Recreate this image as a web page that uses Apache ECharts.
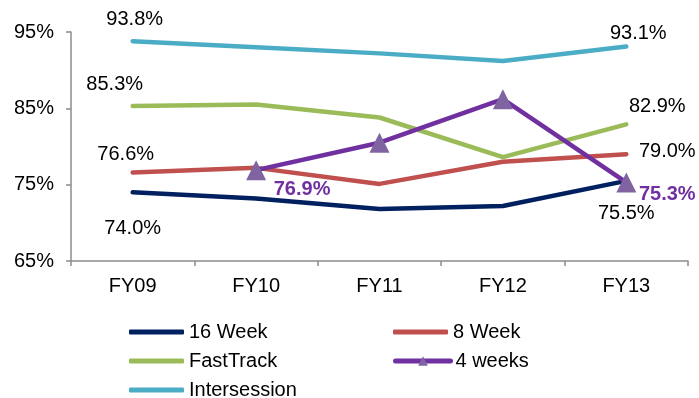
<!DOCTYPE html>
<html>
<head>
<meta charset="utf-8">
<script src="https://cdn.jsdelivr.net/npm/echarts@6/dist/echarts.min.js"></script>
<style>
  html, body { margin: 0; padding: 0; background: #fff; }
  #chart { width: 699px; height: 398px; }
</style>
</head>
<body>
<div id="chart"></div>
<script>
// Fiscal years on the x axis
const categories = ['FY09', 'FY10', 'FY11', 'FY12', 'FY13'];

// Rates per program (percent); null where the program did not run
const week16       = [74.0, 73.2, 71.8, 72.2, 75.5];
const week8        = [76.6, 77.2, 75.1, 78.0, 79.0];
const fastTrack    = [85.3, 85.5, 83.8, 78.6, 82.9];
const weeks4       = [null, 76.9, 80.5, 86.2, 75.3];
const intersession = [93.8, 93.0, 92.2, 91.2, 93.1];

// Value axis ticks
const yMin = 65, yMax = 95, yStep = 10;

const FONT = '"Liberation Sans", Arial, sans-serif';

// Which points carry a value label, and where it sits relative to the point
const labelSpots = {
  '16 Week':      { 0: { dx: 0, dy: 36 }, 4: { dx: 0, dy: 33 } },
  '8 Week':       { 0: { dx: -7, dy: -18 }, 4: { dx: 41, dy: -3 } },
  'FastTrack':    { 0: { dx: -18, dy: -22 }, 4: { dx: 31, dy: -18 } },
  '4 weeks':      { 1: { dx: 46, dy: 19, bold: true }, 4: { dx: 41, dy: 12, bold: true } },
  'Intersession': { 0: { dx: 2, dy: -22 }, 4: { dx: 12, dy: -13 } }
};

const seriesColors = {
  '16 Week': '#002060',
  '8 Week': '#C0504D',
  'FastTrack': '#9BBB59',
  '4 weeks': '#7030A0',
  'Intersession': '#4BACC6'
};

function lineSeries(name, values, opts) {
  opts = opts || {};
  const color = seriesColors[name];
  return {
    name: name,
    type: 'line',
    data: values,
    symbol: opts.symbol || 'none',
    symbolSize: opts.symbolSize || 0,
    showSymbol: true,
    connectNulls: false,
    lineStyle: { color: color, width: 4.5, cap: 'round', join: 'round' },
    itemStyle: { color: opts.markerColor || color },
    emphasis: { disabled: true },
    z: opts.z || 2,
    animation: false
  };
}

// Invisible points that only carry the value labels
function labelSeries(name, values, color) {
  const spots = labelSpots[name];
  const data = values.map(function (v, i) {
    const s = spots[i];
    if (!s || v == null) return null;
    return {
      value: v,
      label: {
        show: true,
        position: 'inside',
        offset: [s.dx, s.dy],
        color: color,
        textBorderWidth: 0,
        fontFamily: FONT,
        fontSize: 20,
        fontWeight: s.bold ? 'bold' : 'normal'
      }
    };
  });
  return {
    name: name + ' values',
    type: 'scatter',
    data: data,
    symbol: 'circle',
    symbolSize: 0,
    itemStyle: { color: 'rgba(0,0,0,0)', opacity: 1 },
    label: { formatter: function (p) { return p.value.toFixed(1) + '%'; } },
    emphasis: { disabled: true },
    silent: true,
    z: 10,
    animation: false
  };
}

const chart = echarts.init(document.getElementById('chart'), null, { renderer: 'canvas' });

const legendText = { color: '#000', fontFamily: FONT, fontSize: 20, lineHeight: 20 };

// One legend entry per slot: two columns, three rows
const legendSlots = [
  { name: '16 Week',      left: 129, top: 322 },
  { name: '8 Week',       left: 393, top: 322 },
  { name: 'FastTrack',    left: 129, top: 351 },
  { name: '4 weeks',      left: 393, top: 351, marker: true },
  { name: 'Intersession', left: 129, top: 380 }
];

chart.setOption({
  backgroundColor: '#fff',
  animation: false,
  grid: { left: 71, right: 11, top: 32, bottom: 137, containLabel: false },
  xAxis: {
    type: 'category',
    data: categories,
    boundaryGap: true,
    axisLine: { show: true, lineStyle: { color: '#8c8c8c', width: 1.5 } },
    axisTick: { show: true, length: 5, lineStyle: { color: '#8c8c8c', width: 1.5 } },
    axisLabel: { color: '#000', fontFamily: FONT, fontSize: 20, margin: 15 },
    splitLine: { show: false }
  },
  yAxis: {
    type: 'value',
    min: yMin,
    max: yMax,
    interval: yStep,
    axisLine: { show: true, lineStyle: { color: '#8c8c8c', width: 1.5 } },
    axisTick: { show: true, length: 5, lineStyle: { color: '#8c8c8c', width: 1.5 } },
    axisLabel: { color: '#000', fontFamily: FONT, fontSize: 20, margin: 17, formatter: '{value}%' },
    splitLine: { show: false }
  },
  legend: legendSlots.map(function (s) {
    return {
      orient: 'horizontal', left: s.left, top: s.top,
      itemWidth: 55, itemHeight: s.marker ? 12 : 5, itemGap: 0, padding: 0,
      lineStyle: { width: 5, cap: 'round' },
      data: [s.marker ? { name: s.name } : {
        name: s.name,
        icon: 'roundRect',
        itemStyle: { color: seriesColors[s.name] }
      }],
      textStyle: legendText
    };
  }),
  series: [
    lineSeries('16 Week', week16),
    lineSeries('8 Week', week8),
    lineSeries('FastTrack', fastTrack),
    lineSeries('Intersession', intersession),
    lineSeries('4 weeks', weeks4, {
      symbol: 'triangle', symbolSize: 20, markerColor: '#8064A2', z: 5
    }),
    labelSeries('16 Week', week16, '#000'),
    labelSeries('8 Week', week8, '#000'),
    labelSeries('FastTrack', fastTrack, '#000'),
    labelSeries('Intersession', intersession, '#000'),
    labelSeries('4 weeks', weeks4, '#7030A0')
  ]
});
</script>
</body>
</html>
